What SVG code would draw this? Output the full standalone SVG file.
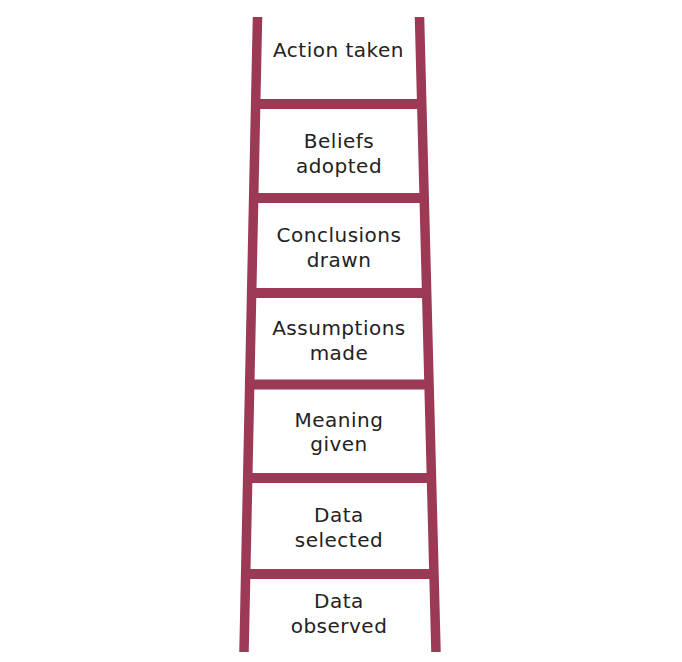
<svg xmlns="http://www.w3.org/2000/svg" width="682" height="662" viewBox="0 0 682 662">
<style>
.rail{stroke:#9C3A55;stroke-width:9.5;fill:none}
.rung{stroke:#9C3A55;stroke-width:10;fill:none}
.lbl{font-family:"DejaVu Sans","Liberation Sans",sans-serif;font-size:20px;fill:#222;text-anchor:middle;letter-spacing:0.5px}
</style>
<rect width="682" height="662" fill="#fff"/>
<g id="ladder">
<line class="rung" x1="258" y1="104" x2="420" y2="104"/>
<line class="rung" x1="256" y1="198" x2="422" y2="198"/>
<line class="rung" x1="254" y1="293" x2="424" y2="293"/>
<line class="rung" x1="252" y1="384.5" x2="426" y2="384.5"/>
<line class="rung" x1="250" y1="478" x2="428" y2="478"/>
<line class="rung" x1="248" y1="574" x2="430" y2="574"/>
<line class="rail" x1="257.5" y1="17" x2="244" y2="652"/>
<line class="rail" x1="419.5" y1="17" x2="436" y2="652"/>
</g>
<g id="action-taken"><text class="lbl" x="338.5" y="57">Action taken</text></g>
<g id="beliefs-adopted"><text class="lbl" x="339" y="148">Beliefs</text><text class="lbl" x="339" y="173">adopted</text></g>
<g id="conclusions-drawn"><text class="lbl" x="339" y="241.5">Conclusions</text><text class="lbl" x="339" y="266.5">drawn</text></g>
<g id="assumptions-made"><text class="lbl" x="339" y="335">Assumptions</text><text class="lbl" x="339" y="360">made</text></g>
<g id="meaning-given"><text class="lbl" x="339" y="427">Meaning</text><text class="lbl" x="339" y="451">given</text></g>
<g id="data-selected"><text class="lbl" x="339" y="522">Data</text><text class="lbl" x="339" y="547">selected</text></g>
<g id="data-observed"><text class="lbl" x="339" y="608">Data</text><text class="lbl" x="339" y="633">observed</text></g>
</svg>
